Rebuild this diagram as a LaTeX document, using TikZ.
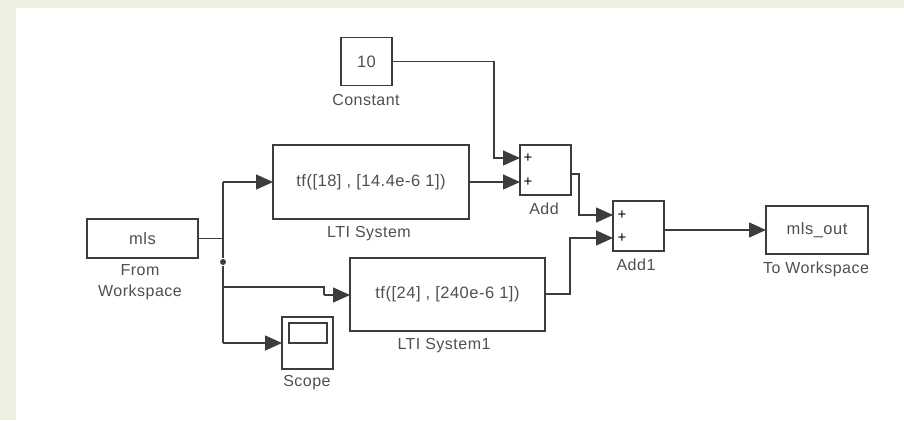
\documentclass[tikz,border=0pt]{standalone}
\usepackage{fontspec}
\setmainfont[LetterSpace=3]{Liberation Sans}
\usetikzlibrary{arrows.meta}
\definecolor{pagebg}{HTML}{EDF0E0}
\definecolor{inkline}{HTML}{3C3C3C}
\definecolor{inktext}{HTML}{505050}
\begin{document}
\begin{tikzpicture}
[ x=1pt, y=-1pt, line width=1.4pt, draw=inkline
, >={Triangle[length=17pt,width=15pt]}
, point/.style={coordinate}
, block/.style={rectangle, draw=inkline, inner sep=0pt, text=inktext, font=\fontsize{16.5}{20}\selectfont}
, caption/.style={inktext, inner sep=0pt, align=center, font=\fontsize{16}{21}\selectfont}
, sign/.style={inner sep=0pt, text=black, font=\fontsize{15}{15}\selectfont}
, dot/.style={circle, fill=inkline, inner sep=0pt, minimum size=6pt}
, wire/.style={draw=inkline}
, feed/.style={draw=inkline, ->}
]
\useasboundingbox (0,0) rectangle (904,420);
\fill[pagebg] (0,0) rectangle (904,420);
\fill[white] (16,8) rectangle (904,420);
% Blocks:
\node (constant) [block, minimum width=51pt, minimum height=48pt] at (366.5,61.5) {10};
\node (lti) [block, minimum width=196pt, minimum height=74pt] at (371,182) {tf([18] , [14.4e-6 1])};
\node (lti1) [block, minimum width=195pt, minimum height=73pt] at (447.5,294.5) {tf([24] , [240e-6 1])};
\node (add) [block, minimum width=51pt, minimum height=50pt] at (545.5,170) {};
\node (add1) [block, minimum width=51pt, minimum height=50pt] at (638.5,226) {};
\node (fromws) [block, minimum width=111pt, minimum height=39pt] at (142.5,238.5) {mls};
\node (tows) [block, minimum width=102pt, minimum height=48pt] at (817,230) {mls\_out};
\node (scope) [block, minimum width=51pt, minimum height=52pt] at (307.5,343) {};
\node (screen) [block, minimum width=38pt, minimum height=20pt] at (308,333) {};
% Captions:
\node (constantcap) [caption] at (366,100) {Constant};
\node (lticap) [caption] at (369,234) {LTI System};
\node (lti1cap) [caption] at (444,346) {LTI System1};
\node (addcap) [caption] at (544,209) {Add};
\node (add1cap) [caption] at (636,265) {Add1};
\node (fromwscap) [caption] at (140,282.5) {From\\Workspace};
\node (towscap) [caption] at (816,269) {To Workspace};
\node (scopecap) [caption] at (307,383) {Scope};
% Signs:
\node (adda) [sign] at (528,158) {+};
\node (addb) [sign] at (528,182) {+};
\node (add1a) [sign] at (622,215) {+};
\node (add1b) [sign] at (622,238) {+};
% Ports and bends:
\node (p0) [point] at (223,238.5) {};
\node (p1) [point] at (223,182) {};
\node (p2) [dot] at (223,262) {};
\node (p3) [point] at (223,287) {};
\node (p4) [point] at (324,287) {};
\node (p5) [point] at (324,295) {};
\node (p6) [point] at (223,343) {};
\node (p7) [point] at (494,158) {};
\node (p8) [point] at (579,174) {};
\node (p9) [point] at (579,215) {};
\node (p10) [point] at (570,238) {};
\node (inlti) [point] at (273,182) {};
\node (inlti1) [point] at (350,295) {};
\node (inscope) [point] at (282,343) {};
\node (inadda) [point] at (520,158) {};
\node (inaddb) [point] at (520,182) {};
\node (inadd1a) [point] at (613,215) {};
\node (inadd1b) [point] at (613,238) {};
\node (intows) [point] at (766,230) {};
\node (outadd) [point] at (571,174) {};
\node (outadd1) [point] at (664,230) {};
\node (outlti1) [point] at (545,294) {};
% Connectors:
\draw [wire] (fromws) -- (p0);
\draw [wire] (p1) -- (p2) -- (p6);
\draw [feed] (p1) -- (inlti);
\draw [wire] (p3) -- (p4) -- (p5);
\draw [feed] (p5) -- (inlti1);
\draw [feed] (p6) -- (inscope);
\draw [feed] (constant) -| (p7) -- (inadda);
\draw [feed] (lti) -- (inaddb);
\draw [feed] (outadd) -- (p8) -- (p9) -- (inadd1a);
\draw [feed] (outlti1) -| (p10) -- (inadd1b);
\draw [feed] (outadd1) -- (intows);
\end{tikzpicture}
\end{document}
